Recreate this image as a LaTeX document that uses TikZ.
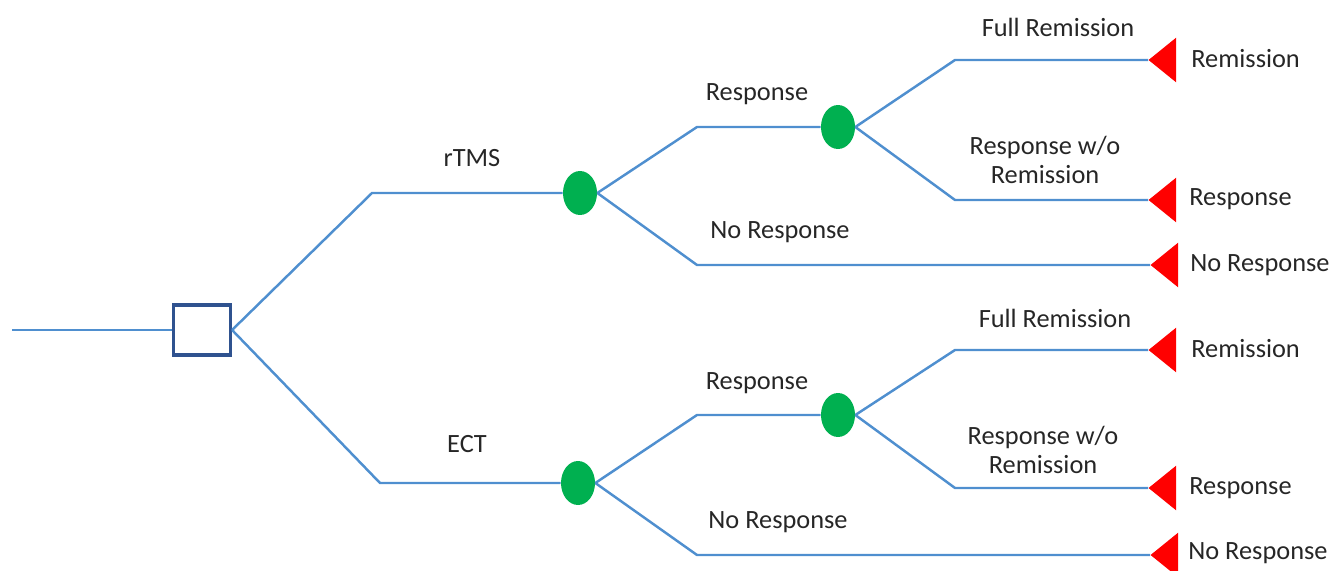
\documentclass[tikz,border=0pt]{standalone}
\usepackage{fontspec}
\setmainfont{Carlito}
\usepackage{xcolor}
\usepackage{tikz}
\usetikzlibrary{shapes.geometric}
\definecolor{branchblue}{HTML}{4F8FCF}
\definecolor{boxblue}{HTML}{2F528F}
\definecolor{chancegreen}{HTML}{00B050}
\definecolor{termred}{HTML}{FF0000}
\definecolor{txtgray}{HTML}{262626}

\begin{document}
\begin{tikzpicture}[x=0.02cm, y=-0.02cm,
  branch/.style={draw=branchblue, line width=1.4pt},
  decision/.style={draw=boxblue, line width=1.8pt, fill=white, minimum width=1.14cm, minimum height=1cm, inner sep=0},
  chance/.style={ellipse, fill=chancegreen, minimum width=0.68cm, minimum height=0.88cm, inner sep=0},
  terminal/.style={isosceles triangle, isosceles triangle apex angle=78, shape border rotate=180, fill=termred, minimum height=0.55cm, inner sep=0, anchor=apex},
  lbl/.style={text=txtgray, font=\fontsize{15}{17}\selectfont, inner sep=0, align=center}]
\useasboundingbox (0,0) rectangle (1332,571);

% Decision
\coordinate (start) at (12,330);
\node[decision] (dec) at (202,330) {};
\draw[branch] (start) -- (dec);

% rTMS arm
\coordinate (a1) at (372,193);
\node[chance] (c1) at (580,193) {};
\draw[branch] (dec.east) -- (a1) -- (c1);
\node[lbl] (la1) at (472,158) {rTMS};

\coordinate (a2) at (697,127);
\node[chance] (c2) at (838,127) {};
\draw[branch] (c1.east) -- (a2) -- (c2);
\node[lbl] (la2) at (757,94) {Response};

\coordinate (a3) at (697,265);
\node[terminal] (t3) at (1150,265) {};
\draw[branch] (c1.east) -- (a3) -- (t3.apex);
\node[lbl] (la3) at (780,232) {No Response};
\node[lbl, anchor=west] (ta3) at (1190,265) {No Response};

\coordinate (a4) at (955,60);
\node[terminal] (t1) at (1148,60) {};
\draw[branch] (c2.east) -- (a4) -- (t1.apex);
\node[lbl] (la4) at (1058,27) {Full Remission};
\node[lbl, anchor=west] (ta1) at (1191,59) {Remission};

\coordinate (a5) at (955,200);
\node[terminal] (t2) at (1148,200) {};
\draw[branch] (c2.east) -- (a5) -- (t2.apex);
\node[lbl] (la5) at (1045,160) {Response w/o\\Remission};
\node[lbl, anchor=west] (ta2) at (1189,199) {Response};

% ECT arm
\coordinate (b1) at (380,483);
\node[chance] (d1) at (578,483) {};
\draw[branch] (dec.east) -- (b1) -- (d1);
\node[lbl] (lb1) at (467,444) {ECT};

\coordinate (b2) at (697,415);
\node[chance] (d2) at (838,415) {};
\draw[branch] (d1.east) -- (b2) -- (d2);
\node[lbl] (lb2) at (757,383) {Response};

\coordinate (b3) at (697,555);
\node[terminal] (s3) at (1150,555) {};
\draw[branch] (d1.east) -- (b3) -- (s3.apex);
\node[lbl] (lb3) at (778,522) {No Response};
\node[lbl, anchor=west] (sb3) at (1188,553) {No Response};

\coordinate (b4) at (955,350);
\node[terminal] (s1) at (1148,350) {};
\draw[branch] (d2.east) -- (b4) -- (s1.apex);
\node[lbl] (lb4) at (1055,318) {Full Remission};
\node[lbl, anchor=west] (sb1) at (1191,349) {Remission};

\coordinate (b5) at (955,488);
\node[terminal] (s2) at (1148,488) {};
\draw[branch] (d2.east) -- (b5) -- (s2.apex);
\node[lbl] (lb5) at (1043,450) {Response w/o\\Remission};
\node[lbl, anchor=west] (sb2) at (1189,488) {Response};
\end{tikzpicture}
\end{document}
